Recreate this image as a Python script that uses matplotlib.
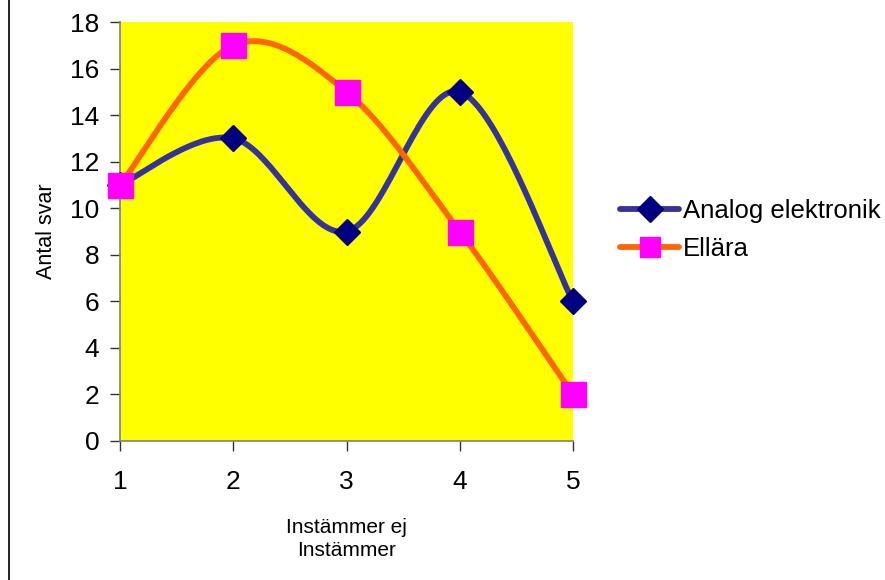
import numpy as np
import matplotlib
matplotlib.use("Agg")
import matplotlib.pyplot as plt
from matplotlib.lines import Line2D

plt.rcParams["font.family"] = ["Liberation Sans", "DejaVu Sans"]

x_vals = [1, 2, 3, 4, 5]
analog = [11, 13, 9, 15, 6]
ellara = [11, 17, 15, 9, 2]
series_names = ["Analog elektronik", "Ellära"]
y_ticks = [0, 2, 4, 6, 8, 10, 12, 14, 16, 18]


def smooth(xs, ys, n=40):
    # Excel-style smoothed line: Catmull-Rom through the points as cubic Beziers
    p = np.column_stack([xs, ys]).astype(float)
    p = np.vstack([p[0], p, p[-1]])
    out = []
    t = np.linspace(0, 1, n)[:, None]
    for i in range(1, len(p) - 2):
        p0, p3 = p[i], p[i + 1]
        c1 = p0 + (p[i + 1] - p[i - 1]) / 6
        c2 = p3 - (p[i + 2] - p[i]) / 6
        seg = ((1 - t) ** 3) * p0 + 3 * ((1 - t) ** 2) * t * c1 + 3 * (1 - t) * t ** 2 * c2 + t ** 3 * p3
        out.append(seg if i == 1 else seg[1:])
    out = np.vstack(out)
    return out[:, 0], out[:, 1]


fig = plt.figure(figsize=(8.85, 5.8), dpi=100)
ax = fig.add_axes([120 / 885, 1 - 441 / 580, 453 / 885, 419 / 580])
ax.set_facecolor("#FFFF00")

sx, sy = smooth(x_vals, analog)
ax.plot(sx, sy, color="#333399", lw=4.2, solid_capstyle="round", zorder=3)
ax.plot(x_vals, analog, ls="none", marker="D", ms=13, color="#000080",
        clip_on=False, zorder=4)

sx, sy = smooth(x_vals, ellara)
ax.plot(sx, sy, color="#FF6600", lw=4.2, solid_capstyle="round", zorder=3)
ax.plot(x_vals, ellara, ls="none", marker="s", ms=18, color="#FF00FF",
        clip_on=False, zorder=5)

ax.set_xlim(1, 5)
ax.set_ylim(0, 18)
ax.set_xticks(x_vals)
ax.set_yticks(y_ticks)
ax.tick_params(labelsize=19, length=7, width=1, direction="out", color="#333333")
ax.tick_params(axis="y", pad=8)
ax.tick_params(axis="x", pad=14)
for s in ["top", "right"]:
    ax.spines[s].set_visible(False)
for s in ["left", "bottom"]:
    ax.spines[s].set_color("#808080")
    ax.spines[s].set_linewidth(1.2)

ax.set_xlabel("Instämmer ej\nInstämmer", fontsize=15, labelpad=17, linespacing=1.25)
ax.set_ylabel("Antal svar", fontsize=15.5, labelpad=9)

handles = [
    Line2D([], [], color="#333399", lw=4.2, solid_capstyle="round",
           marker="D", ms=13, mfc="#000080", mec="#000080"),
    Line2D([], [], color="#FF6600", lw=4.2, solid_capstyle="round",
           marker="s", ms=15, mfc="#FF00FF", mec="#FF00FF"),
]
fig.legend(handles, series_names, loc="center left", bbox_to_anchor=(610 / 885, 1 - 230 / 580),
           frameon=False, fontsize=18.5, handlelength=2.3, handletextpad=0.15,
           labelspacing=0.55, borderaxespad=0)

fig.add_artist(Line2D([8.5 / 885, 8.5 / 885], [0, 1], color="black", lw=1.2,
                      transform=fig.transFigure))

fig.savefig("out.png", dpi=100)
